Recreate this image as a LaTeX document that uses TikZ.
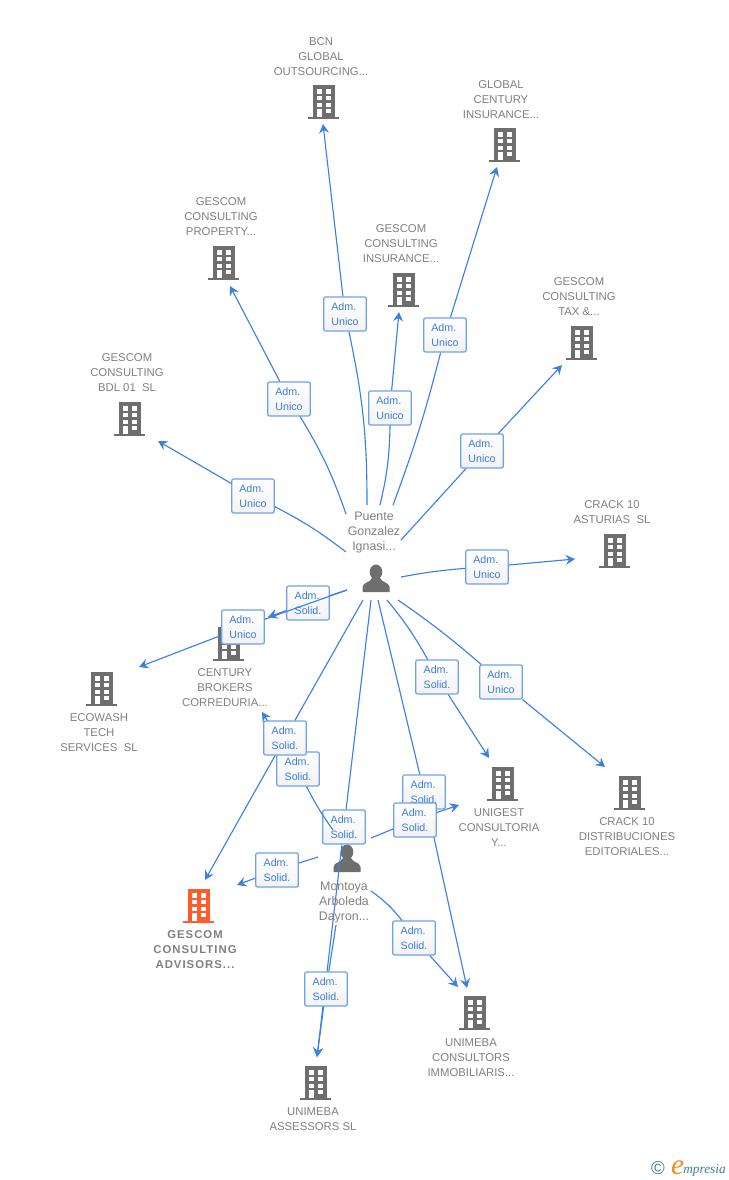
\documentclass[tikz,border=0pt]{standalone}
\usepackage{fontspec}
\setmainfont{Liberation Sans}
\newfontfamily\spacedfont[LetterSpace=9]{Liberation Sans}
\newfontfamily\logofont{Liberation Serif}
\usetikzlibrary{arrows.meta}
\definecolor{connblue}{HTML}{3B80E2}
\definecolor{boxblue}{HTML}{6BA2EA}
\definecolor{textblue}{HTML}{3A7CDC}
\definecolor{labelgray}{HTML}{808080}
\definecolor{icongray}{HTML}{6E6E6E}
\definecolor{iconorange}{HTML}{FF5B2B}
\definecolor{logoteal}{HTML}{3F7F96}
\definecolor{logoorange}{HTML}{F58A1F}
\tikzset{
  conn/.style={draw=connblue,line width=0.85pt},
  admbox/.style={draw=boxblue,line width=0.9pt,rounded corners=1.5pt,top color=white,bottom color=black!5,
    minimum width=32pt,minimum height=25.5pt,inner sep=0pt,align=left,text=textblue,
    font=\fontsize{8}{11.25}\selectfont},
  lbl/.style={text=labelgray,align=center,inner sep=0pt,font=\fontsize{8.5}{11.25}\selectfont},
  perlbl/.style={text=labelgray,align=center,inner sep=0pt,font=\fontsize{9.3}{11.25}\selectfont},
  mainlbl/.style={text=labelgray,align=center,inner sep=0pt,font=\fontsize{8.5}{11.25}\spacedfont\bfseries},
  pics/bldg/.style={code={
    \fill[#1] (-10.5,-17) rectangle (11.5,15);
    \fill[#1] (-15.5,14.7) rectangle (15.5,16.7);
    \foreach \wy in {-12.7,-6,0.8}{
      \fill[white] (-6.5,\wy) rectangle (-1.5,\wy+4.3);
      \fill[white] (2.8,\wy) rectangle (8.2,\wy+4.3);
    }
    \fill[white] (-6.5,7.3) rectangle (-1.5,15);
    \fill[white] (2.8,7.3) rectangle (8.2,11.3);
  }},
  pics/bldg/.default=icongray,
  pics/person/.style={code={
    \fill[icongray] (0,-6) ellipse (6.3 and 7.5);
    \fill[icongray] (-13.5,14) -- (-13.5,9) .. controls (-13,4) and (-6,5) .. (-4,0)
      -- (4,0) .. controls (6,5) and (13,4) .. (13.5,9) -- (13.5,14) -- cycle;
  }}
}
\begin{document}
\begin{tikzpicture}[x=0.75pt,y=-0.75pt,>={Stealth[length=7pt,width=7.5pt,inset=2.5pt]}]
  \useasboundingbox (0,0) rectangle (728,1180);
  % icons
  \pic at (323,102) {bldg};
  \pic at (504,145) {bldg};
  \pic at (223,263) {bldg};
  \pic at (403,290) {bldg};
  \pic at (581,343) {bldg};
  \pic at (129,419) {bldg};
  \pic at (614,551) {bldg};
  \pic at (101,689) {bldg};
  \pic at (228,644) {bldg};
  \pic at (502,784) {bldg};
  \pic at (629,793) {bldg};
  \pic at (198,906) {bldg=iconorange};
  \pic at (474,1013) {bldg};
  \pic at (315,1083) {bldg};
  \pic at (376,578) {person};
  \pic at (347,858) {person};
  % free ends
  \coordinate (sbcn) at (367,505);
  \coordinate (sglobal) at (393,505);
  \coordinate (sins) at (380,505);
  \coordinate (sprop) at (346,514);
  \coordinate (sbdl) at (346,552);
  \coordinate (stax) at (401,540);
  \coordinate (sast) at (401,577);
  \coordinate (sdist) at (398,600);
  \coordinate (suni) at (387,600);
  \coordinate (scons) at (378,600);
  \coordinate (sass) at (371,600);
  \coordinate (sadv) at (363,600);
  \coordinate (sleft) at (347,590);
  \coordinate (mcent) at (333,830);
  \coordinate (madv) at (318,857);
  \coordinate (muni) at (371,838);
  \coordinate (mcons) at (371,891);
  \coordinate (mass) at (336,925);
  \coordinate (tbcn) at (323,124);
  \coordinate (tglobal) at (497,167);
  \coordinate (tins) at (399,312);
  \coordinate (tprop) at (230,286);
  \coordinate (tbdl) at (158,441);
  \coordinate (ttax) at (562,365);
  \coordinate (tast) at (575,559);
  \coordinate (tdist) at (605,767);
  \coordinate (tuni) at (489,758);
  \coordinate (tcons) at (467,988);
  \coordinate (tass) at (317,1057);
  \coordinate (tadv) at (205,880);
  \coordinate (tcent) at (268,617);
  \coordinate (teco) at (139,667);
  \coordinate (tmcent) at (262,712);
  \coordinate (tmadv) at (237,885);
  \coordinate (tmuni) at (459,805);
  \coordinate (tmcons) at (458,987);
  % first person
  \node[admbox] (b1) at (345,314) {Adm.\\Unico};
  \draw[conn] (sbcn) to[bend right=6] (b1);
  \draw[conn,->] (b1) to (tbcn);
  \node[admbox] (b2) at (445,335) {Adm.\\Unico};
  \draw[conn] (sglobal) to[bend right=3] (b2);
  \draw[conn,->] (b2) to (tglobal);
  \node[admbox] (b3) at (390,408) {Adm.\\Unico};
  \draw[conn] (sins) to[bend right=6] (b3);
  \draw[conn,->] (b3) to (tins);
  \node[admbox] (b4) at (289,399) {Adm.\\Unico};
  \draw[conn] (sprop) to[bend right=6] (b4);
  \draw[conn,->] (b4) to (tprop);
  \node[admbox] (b5) at (253,496) {Adm.\\Unico};
  \draw[conn] (sbdl) to[bend right=5] (b5);
  \draw[conn,->] (b5) to (tbdl);
  \node[admbox] (b6) at (482,451) {Adm.\\Unico};
  \draw[conn] (stax) to (b6);
  \draw[conn,->] (b6) to (ttax);
  \node[admbox] (b7) at (487,567) {Adm.\\Unico};
  \draw[conn] (sast) to[bend left=3] (b7);
  \draw[conn,->] (b7) to (tast);
  \node[admbox] (b8) at (501,682) {Adm.\\Unico};
  \draw[conn] (sdist) to[bend left=3] (b8);
  \draw[conn,->] (b8) to (tdist);
  \node[admbox] (b9) at (437,677) {Adm.\\Solid.};
  \draw[conn] (suni) to[bend left=5] (b9);
  \draw[conn,->] (b9) to (tuni);
  \node[admbox] (b10) at (424,792) {Adm.\\Solid.};
  \draw[conn] (scons) to (b10);
  \draw[conn,->] (b10) to (tcons);
  \node[admbox] (b11) at (344,827) {Adm.\\Solid.};
  \draw[conn] (sass) to (b11);
  \draw[conn,->] (b11) to (tass);
  \node[admbox] (b13) at (308,603) {Adm.\\Solid.};
  \draw[conn] (sleft) to (b13);
  \draw[conn,->] (b13) to (tcent);
  \node[admbox] (b14) at (243,627) {Adm.\\Unico};
  \draw[conn] (sleft) to (b14);
  \draw[conn,->] (b14) to (teco);
  % second person
  \node[admbox] (c1) at (298,769) {Adm.\\Solid.};
  \draw[conn] (mcent) to[bend left=4] (c1);
  \draw[conn,->] (c1) to (tmcent);
  \node[admbox] (b12) at (285,738) {Adm.\\Solid.};
  \draw[conn] (sadv) to (b12);
  \draw[conn,->] (b12) to (tadv);
  \node[admbox] (c2) at (277,870) {Adm.\\Solid.};
  \draw[conn] (madv) to (c2);
  \draw[conn,->] (c2) to (tmadv);
  \node[admbox] (c3) at (415,820) {Adm.\\Solid.};
  \draw[conn] (muni) to (c3);
  \draw[conn,->] (c3) to (tmuni);
  \node[admbox] (c4) at (414,938) {Adm.\\Solid.};
  \draw[conn] (mcons) to[bend left=8] (c4);
  \draw[conn,->] (c4) to (tmcons);
  \node[admbox] (c5) at (326,989) {Adm.\\Solid.};
  \draw[conn] (mass) to (c5);
  \draw[conn,->] (c5) to (tass);
  % labels
  \node[lbl] (bcn) at (321,57) {BCN\\GLOBAL\\OUTSOURCING...};
  \node[lbl] (global) at (501,99.5) {GLOBAL\\CENTURY\\INSURANCE...};
  \node[lbl] (property) at (221,217) {GESCOM\\CONSULTING\\PROPERTY...};
  \node[lbl] (insurance) at (401,244) {GESCOM\\CONSULTING\\INSURANCE...};
  \node[lbl] (tax) at (579,297) {GESCOM\\CONSULTING\\TAX \&...};
  \node[lbl] (bdl) at (127,373) {GESCOM\\CONSULTING\\BDL 01\ \ SL};
  \node[lbl] (asturias) at (612,512.5) {CRACK 10\\ASTURIAS\ \ SL};
  \node[lbl] (ecowash) at (99,733) {ECOWASH\\TECH\\SERVICES\ \ SL};
  \node[lbl] (century) at (225,688) {CENTURY\\BROKERS\\CORREDURIA...};
  \node[lbl] (unigest) at (499,828) {UNIGEST\\CONSULTORIA\\Y...};
  \node[lbl] (distrib) at (627,837) {CRACK 10\\DISTRIBUCIONES\\EDITORIALES...};
  \node[mainlbl] (advisors) at (195,950) {GESCOM\\CONSULTING\\ADVISORS...};
  \node[lbl] (consultors) at (471,1058) {UNIMEBA\\CONSULTORS\\IMMOBILIARIS...};
  \node[lbl] (assessors) at (313,1119.5) {UNIMEBA\\ASSESSORS SL};
  \node[perlbl] (puente) at (374,532.5) {Puente\\Gonzalez\\Ignasi...};
  \node[perlbl] (montoya) at (344,903) {Montoya\\Arboleda\\Dayron...};
  % logo
  \node[text=logoteal,inner sep=0pt,font=\fontsize{14}{14}\selectfont] (copyr) at (658,1168.5) {©};
  \node[text=logoorange,inner sep=0pt,font=\fontsize{22}{22}\logofont\itshape] (logoe) at (677.5,1167.5) {e};
  \node[text=logoteal,inner sep=0pt,font=\fontsize{10}{11}\logofont\itshape,anchor=base east] (logotext) at (726,1173) {mpresia};
\end{tikzpicture}
\end{document}
